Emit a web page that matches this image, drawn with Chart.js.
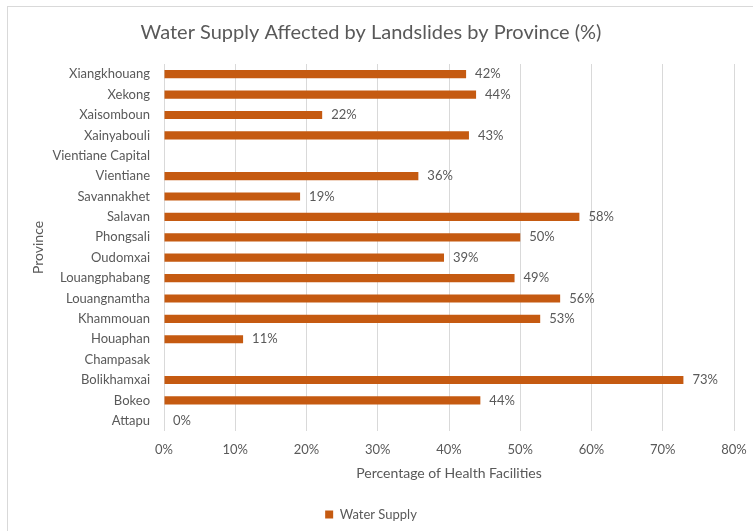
<!DOCTYPE html>
<html>
<head>
<meta charset="utf-8">
<script src="https://cdn.jsdelivr.net/npm/chart.js@4.4.1/dist/chart.umd.min.js"></script>
<style>
  html, body { margin: 0; padding: 0; background: #fff; overflow: hidden; }
  #frame { position: absolute; left: 7px; top: 6px; width: 760px; height: 530px; border: 1px solid #d9d9d9; }
</style>
</head>
<body>
<div id="frame"><canvas id="chart" width="760" height="524"></canvas></div>
<script>
// provinces, top to bottom as in the picture
const provinces = ['Xiangkhouang', 'Xekong', 'Xaisomboun', 'Xainyabouli', 'Vientiane Capital', 'Vientiane',
  'Savannakhet', 'Salavan', 'Phongsali', 'Oudomxai', 'Louangphabang', 'Louangnamtha', 'Khammouan',
  'Houaphan', 'Champasak', 'Bolikhamxai', 'Bokeo', 'Attapu']
// percent of health facilities (no value for Vientiane Capital / Champasak)
const waterSupply = [42.4, 43.8, 22.2, 42.8, null, 35.7, 19.1, 58.3, 50.0, 39.3, 49.2, 55.6, 52.8, 11.1, null, 72.9, 44.4, 0]
const xTicks = [0, 10, 20, 30, 40, 50, 60, 70, 80]

const grey = '#595959'
const fam = 'Lato, "Open Sans", sans-serif'

// value labels at the end of each bar
const barLabels = {
    id: 'barLabels',
    afterDatasetsDraw(chart) {
        const ctx = chart.ctx
        const meta = chart.getDatasetMeta(0)
        ctx.save()
        ctx.font = '13px ' + fam
        ctx.fillStyle = grey
        ctx.textAlign = 'left'
        ctx.textBaseline = 'middle'
        meta.data.forEach((bar, i) => {
            const v = waterSupply[i]
            if (v === null) return
            ctx.fillText(Math.round(v) + '%', bar.x + 9, bar.y)
        })
        ctx.restore()
    }
}

const data = {
    labels: provinces,
    datasets: [{
        label: 'Water Supply',
        data: waterSupply,
        backgroundColor: '#C55A11',
        borderWidth: 0,
        barPercentage: 0.4,
        categoryPercentage: 1
    }]
}

const config = {
    type: 'bar',
    data: data,
    options: {
        indexAxis: 'y',
        responsive: false,
        animation: false,
        layout: { padding: { top: 14, right: 34, left: 0, bottom: 0 } },
        plugins: {
            title: {
                display: true,
                text: 'Water Supply Affected by Landslides by Province (%)',
                color: grey,
                font: { family: fam, size: 20, weight: 'normal' },
                padding: { top: 0, bottom: 19 }
            },
            legend: {
                position: 'bottom',
                labels: {
                    color: grey,
                    boxWidth: 8,
                    boxHeight: 8,
                    padding: 10,
                    font: { family: fam, size: 13 }
                }
            },
            tooltip: { enabled: false }
        },
        scales: {
            x: {
                min: 0,
                max: 80,
                afterBuildTicks: (scale) => { scale.ticks = xTicks.map(v => ({ value: v })) },
                afterFit: (scale) => { scale.height = 67 },
                ticks: {
                    color: grey,
                    padding: 11,
                    font: { family: fam, size: 13 },
                    callback: (v) => v + '%'
                },
                grid: { color: '#d9d9d9', drawTicks: false },
                border: { display: false },
                title: {
                    display: true,
                    text: 'Percentage of Health Facilities',
                    color: grey,
                    font: { family: fam, size: 14 },
                    padding: { top: 0, bottom: 16 }
                }
            },
            y: {
                afterFit: (scale) => { scale.width = 156 },
                ticks: {
                    color: grey,
                    padding: 6,
                    font: { family: fam, size: 13 }
                },
                grid: { display: false },
                border: { display: false },
                title: {
                    display: true,
                    text: 'Province',
                    color: grey,
                    font: { family: fam, size: 14 },
                    padding: { top: 22, bottom: 0 }
                }
            }
        }
    },
    plugins: [barLabels]
}

new Chart(document.getElementById('chart'), config)
</script>
</body>
</html>
